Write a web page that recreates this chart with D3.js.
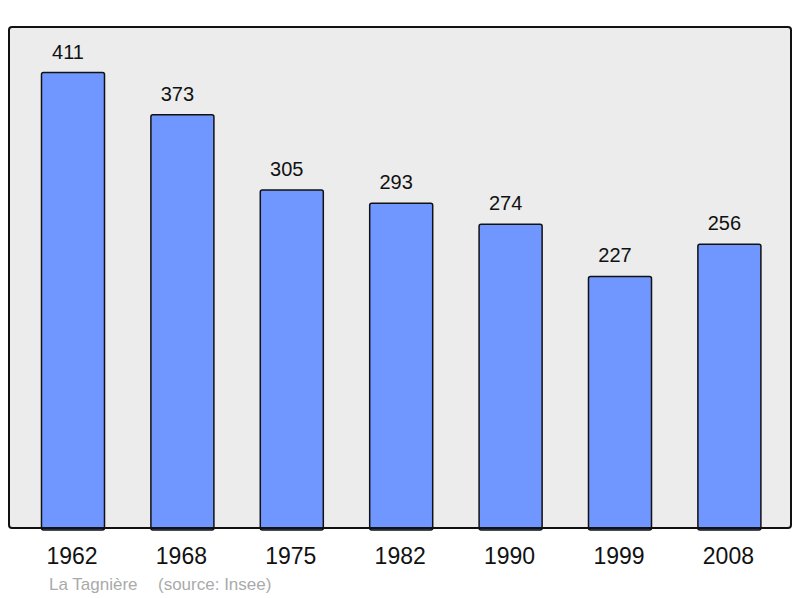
<!DOCTYPE html>
<html>
<head>
<meta charset="utf-8">
<script src="https://cdn.jsdelivr.net/npm/d3@7"></script>
<style>
  body { margin: 0; background: #fff; }
  svg { display: block; font-family: "Liberation Sans", Arial, sans-serif; }
</style>
</head>
<body>
<div id="viz"><svg></svg></div>
<script>
const years = ['1962', '1968', '1975', '1982', '1990', '1999', '2008'];
const population = [411, 373, 305, 293, 274, 227, 256];
const placeName = 'La Tagnière';
const sourceText = '(source: Insee)';

const fullWidth = 800;
const fullHeight = 598;

const plot = { left: 9, top: 27, right: 791, bottom: 528 };

const svg = d3.select('#viz svg')
  .attr('width', fullWidth)
  .attr('height', fullHeight);

const x = d3.scaleBand()
  .domain(years)
  .range([18.3, 784.1])
  .paddingInner(0.424)
  .paddingOuter(0.212);

const y = d3.scaleLinear()
  .domain([0, d3.max(population) * 1.1])
  .range([plot.bottom, plot.top]);

const data = years.map((yr, i) => ({ year: yr, value: population[i] }));

// background frame
svg.append('rect')
  .attr('x', plot.left)
  .attr('y', plot.top)
  .attr('width', plot.right - plot.left)
  .attr('height', plot.bottom - plot.top)
  .attr('rx', 3)
  .attr('fill', '#ececec');

svg.selectAll('rect.bar')
  .data(data)
  .enter().append('rect')
  .attr('class', 'bar')
  .attr('x', d => x(d.year))
  .attr('y', d => y(d.value))
  .attr('width', x.bandwidth())
  .attr('height', d => y(0) - y(d.value) + 2)
  .attr('rx', 2)
  .attr('fill', '#7097ff')
  .attr('stroke', '#111')
  .attr('stroke-width', 1.5);

// frame outline drawn over bar bottoms
svg.append('rect')
  .attr('x', plot.left)
  .attr('y', plot.top)
  .attr('width', plot.right - plot.left)
  .attr('height', plot.bottom - plot.top)
  .attr('rx', 3)
  .attr('fill', 'none')
  .attr('stroke', '#111')
  .attr('stroke-width', 2);

// value labels sit a little left of the bar centre
svg.selectAll('text.val')
  .data(data)
  .enter().append('text')
  .attr('class', 'val')
  .attr('x', d => x(d.year) + x.bandwidth() / 2 - 5)
  .attr('y', d => y(d.value) - 14)
  .attr('text-anchor', 'middle')
  .attr('font-size', 20)
  .attr('fill', '#111')
  .text(d => d.value);

svg.selectAll('text.year')
  .data(years)
  .enter().append('text')
  .attr('class', 'year')
  .attr('x', d => x(d) + x.bandwidth() / 2 - 1)
  .attr('y', 564)
  .attr('text-anchor', 'middle')
  .attr('font-size', 23)
  .attr('fill', '#111')
  .text(d => d);

svg.append('text')
  .attr('x', 49)
  .attr('y', 590)
  .attr('font-size', 17)
  .attr('fill', '#aaa')
  .text(placeName);

svg.append('text')
  .attr('x', 158)
  .attr('y', 590)
  .attr('font-size', 17)
  .attr('fill', '#aaa')
  .text(sourceText);
</script>
</body>
</html>
